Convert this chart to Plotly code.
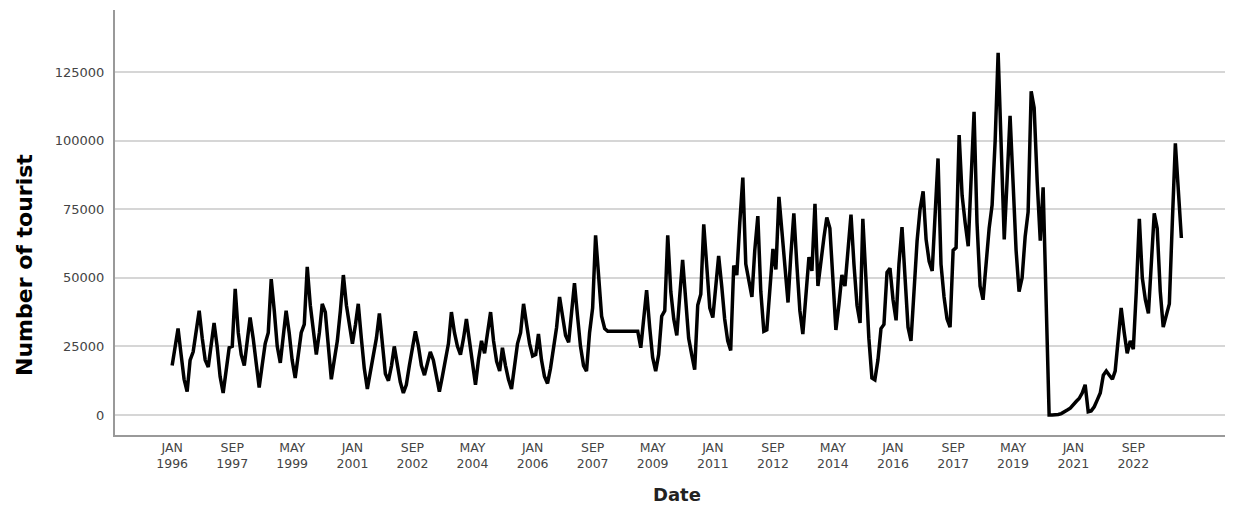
import pandas as pd
import plotly.graph_objects as go

# Monthly tourist arrivals, Jan 1996 - Jan 2024
tourists_1996_2003 = [
    18000, 25000, 31500, 22000, 13000, 8500, 20000, 23000, 30000, 38000, 28000, 20000,
    17500, 25000, 33500, 25000, 14000, 8000, 16000, 24500, 25000, 46000, 30000, 22000,
    18000, 27000, 35500, 28000, 18000, 10000, 18000, 26000, 30000, 49500, 38000, 25000,
    19000, 30000, 38000, 30000, 20000, 13500, 22000, 30000, 33000, 54000, 40000, 30000,
    22000, 30000, 40500, 37500, 25000, 13000, 20000, 27000, 38000, 51000, 40000, 32000,
    26000, 33000, 40500, 28000, 17000, 9500, 15000, 22000, 28000, 37000, 25000, 15000,
    12500, 18000, 25000, 18000, 12000, 8000, 11000, 18000, 24000, 30500, 25000, 18000,
    14500, 19000, 23000, 20000, 14000, 8500, 14000, 20000, 26000, 37500, 30000, 25000,
]
tourists_2004_2011 = [
    22000, 28000, 35000, 27000, 18000, 11000, 20000, 27000, 22500, 30000, 37500, 27000,
    19500, 16000, 24500, 18000, 13000, 9500, 18000, 26000, 30000, 40500, 33000, 26000,
    21500, 22000, 29500, 20000, 14000, 11500, 17000, 25000, 32000, 43000, 36000, 29000,
    26500, 38000, 48000, 36000, 25000, 18000, 16000, 30000, 39000, 65500, 48000, 36000,
    31500, 30500, 30500, 30500, 30500, 30500, 30500, 30500, 30500, 30500, 30500, 30500,
    24500, 36000, 45500, 32000, 21000, 16000, 22000, 36000, 38000, 65500, 45000, 35000,
    29000, 44000, 56500, 42000, 28000, 22000, 16500, 40000, 44000, 69500, 52000, 39000,
    35500, 47000, 58000, 47000, 35000, 27000, 23500, 54500, 51000, 70000, 86500, 55000,
]
tourists_2012_2019 = [
    48000, 43000, 60000, 72500, 45000, 30500, 31000, 45000, 60500, 53000, 79500, 67000,
    52000, 41000, 58000, 73500, 55000, 38000, 29500, 42000, 57500, 52500, 77000, 47000,
    57500, 65000, 72000, 68000, 50000, 31000, 40000, 51000, 47000, 60000, 73000, 55000,
    40000, 33500, 71500, 50000, 28000, 13500, 12800, 20000, 31500, 33000, 52000, 53500,
    42000, 34500, 55000, 68500, 50000, 32000, 27000, 45000, 63500, 75000, 81500, 64000,
    56000, 52500, 75000, 93500, 55000, 43000, 35000, 32000, 60000, 61000, 102000, 80000,
    70000, 61500, 85000, 110500, 70000, 47000, 42000, 55000, 68000, 76500, 100000, 132000,
    95000, 64000, 85000, 109000, 85000, 60000, 45000, 50000, 65000, 74000, 118000, 112000,
]
tourists_2020_2024 = [
    85000, 63500, 83000, 38000, 0, 0, 0, 200, 500, 1000, 1800, 2500,
    4000, 5000, 6000, 8000, 11000, 1200, 1500, 3000, 5500, 8000, 14500, 16000,
    14500, 13000, 16000, 27000, 39000, 30000, 22500, 27000, 24000, 45000, 71500, 50000,
    42000, 37000, 55000, 73500, 68000, 45000, 32000, 36000, 40500, 70000, 99000, 82000,
    64500,
]
tourists = tourists_1996_2003 + tourists_2004_2011 + tourists_2012_2019 + tourists_2020_2024

start_month = "1996-01-01"
dates = pd.date_range(start_month, periods=len(tourists), freq="MS")

tick_step = 20
tick_count = 17
tick_dates = dates[::tick_step][:tick_count]
tick_text = [f"{d.strftime('%b').upper()}<br>{d.year}" for d in tick_dates]

y_ticks = [0, 25000, 50000, 75000, 100000, 125000]

x_min = pd.Timestamp("1994-06-01")
x_max = pd.Timestamp("2025-03-18")

fig = go.Figure()
fig.add_trace(go.Scatter(
    x=dates, y=tourists, mode="lines",
    line=dict(color="black", width=3.5),
    showlegend=False,
))

fig.update_layout(
    width=1231, height=498,
    margin=dict(l=107, r=14, t=2, b=71),
    paper_bgcolor="white", plot_bgcolor="white",
    font=dict(family="DejaVu Sans, Arial, sans-serif", color="#444444"),
)
fig.update_xaxes(
    range=[x_min, x_max],
    tickvals=list(tick_dates), ticktext=tick_text,
    tickfont=dict(size=12.5, color="#444444"),
    showgrid=False, zeroline=False,
    showline=True, linecolor="#999999", linewidth=2,
    ticks="",
)
fig.update_yaxes(
    range=[-7300, 147600],
    tickvals=y_ticks, ticktext=[str(v) for v in y_ticks],
    tickfont=dict(size=13, color="#444444"),
    showgrid=True, gridcolor="#d6d6d6", gridwidth=2,
    zeroline=False,
    showline=True, linecolor="#999999", linewidth=2,
    ticks="", ticklabelstandoff=6,
)
fig.add_annotation(
    text="<b>Number of tourist</b>", xref="paper", yref="paper",
    x=-0.082, y=0.40, xanchor="center", yanchor="middle",
    textangle=-90, showarrow=False,
    font=dict(size=22, color="black", family="DejaVu Sans, Arial, sans-serif"),
)
fig.add_annotation(
    text="<b>Date</b>", xref="paper", yref="paper",
    x=0.506, y=-0.139, xanchor="center", yanchor="middle",
    showarrow=False,
    font=dict(size=18, color="#222222", family="DejaVu Sans, Arial, sans-serif"),
)

fig.write_html("out.html")
